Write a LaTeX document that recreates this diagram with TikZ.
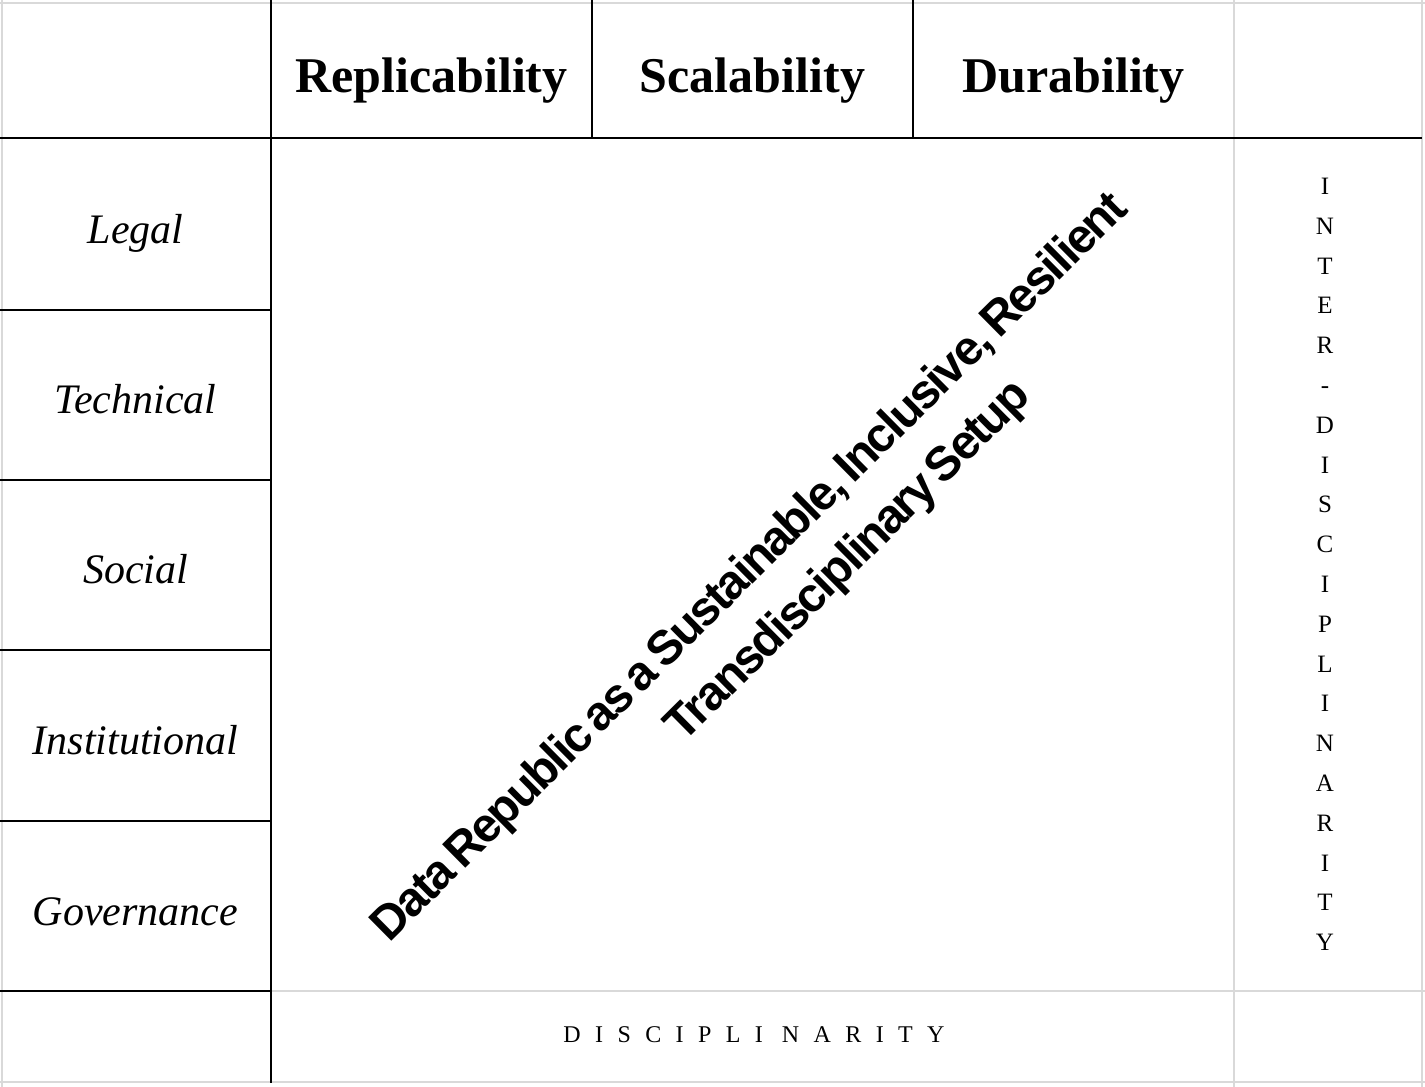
\documentclass[tikz,border=0pt]{standalone}
\usepackage{fontspec}
\setmainfont{Liberation Serif}
\newfontfamily\diagfont[LetterSpace=-4.5,WordSpace=0.55]{Liberation Sans}
\newfontfamily\spacedfont[LetterSpace=60]{Liberation Serif}
\definecolor{gridgray}{HTML}{D9D9D9}
\begin{document}
\begin{tikzpicture}[x=1pt,y=-1pt]
\tikzset{
 blackline/.style={line width=2.6pt, draw=black},
 grayline/.style={line width=2.6pt, draw=gridgray},
 headtext/.style={font=\fontsize{50}{60}\selectfont\bfseries, anchor=base, inner sep=0pt},
 rowtext/.style={font=\fontsize{42}{50}\selectfont\itshape, anchor=base, inner sep=0pt},
 vlet/.style={font=\fontsize{25}{30}\selectfont, anchor=base, inner sep=0pt},
 disctext/.style={font=\spacedfont\fontsize{24}{28}\selectfont, anchor=base, inner sep=0pt},
 diagtext/.style={font=\diagfont\bfseries\fontsize{48}{54}\selectfont, anchor=base, inner sep=0pt, rotate=44.7},
}
\useasboundingbox (0,0) rectangle (1425,1087);
\fill[white] (0,0) rectangle (1425,1087);
% gray grid lines
\draw[grayline] (2,0) -- (2,1087);
\draw[grayline] (0,3) -- (1425,3);
\draw[grayline] (1422,0) -- (1422,1087);
\draw[grayline] (0,1082) -- (1425,1082);
\draw[grayline] (1234,0) -- (1234,1087);
\draw[grayline] (271,991) -- (1425,991);
% black grid lines
\draw[blackline] (271,0) -- (271,1083);
\draw[blackline] (592,0) -- (592,138);
\draw[blackline] (913,0) -- (913,138);
\draw[blackline] (0,138) -- (1422,138);
\foreach \yy in {310,480,650,821,991}
  \draw[blackline] (0,\yy) -- (271,\yy);
% header
\node[headtext] (rep) at (431.5,92) {Replicability};
\node[headtext] (sca) at (752.5,92) {Scalability};
\node[headtext] (dur) at (1073.5,92) {Durability};
% rows
\node[rowtext] (legal) at (135.5,243) {Legal};
\node[rowtext] (tech) at (135.5,413) {Technical};
\node[rowtext] (social) at (135.5,583) {Social};
\node[rowtext] (inst) at (135.5,754) {Institutional};
\node[rowtext] (gov) at (135.5,925) {Governance};
% vertical interdisciplinarity
\foreach \ch [count=\i] in {I,N,T,E,R,-,D,I,S,C,I,P,L,I,N,A,R,I,T,Y}
  \node[vlet] (v\i) at (1325,{194.5+39.8*(\i-1)}) {\ch};
% bottom
\node[disctext] (disc) at (754,1042) {DISCIPLI\hspace{19pt}NARITY};
% diagonal
\node[diagtext] (diag1) at (759.5,577.5) {Data Republic as a Sustainable, Inclusive, Resilient};
\node[diagtext] (diag2) at (858,571) {Transdisciplinary Setup};
\end{tikzpicture}
\end{document}
